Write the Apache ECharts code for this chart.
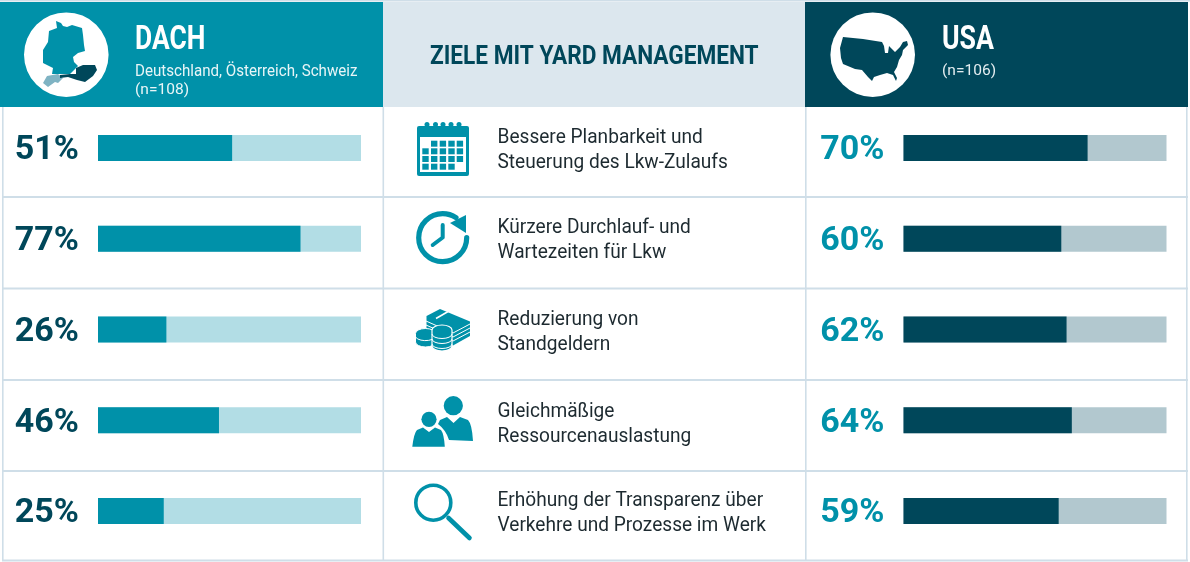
<!DOCTYPE html>
<html>
<head>
<meta charset="utf-8">
<style>html,body{margin:0;padding:0;background:#fff}#chart{width:1190px;height:562px}</style>
<script src="https://cdn.jsdelivr.net/npm/echarts@6/dist/echarts.min.js"></script>
</head>
<body>
<div id="chart"></div>
<script>
// Survey results: goals of yard management, DACH vs. USA (percent of respondents)
const goals = [
  ['Bessere Planbarkeit und', 'Steuerung des Lkw-Zulaufs'],
  ['Kürzere Durchlauf- und', 'Wartezeiten für Lkw'],
  ['Reduzierung von', 'Standgeldern'],
  ['Gleichmäßige', 'Ressourcenauslastung'],
  ['Erhöhung der Transparenz über', 'Verkehre und Prozesse im Werk']
];
const dachValues = [51, 77, 26, 46, 25];
const usaValues = [70, 60, 62, 64, 59];
const goalIds = ['planning', 'leadtime', 'fees', 'resources', 'transparency'];

const TEAL = '#0091a9', DARK = '#00475a', TEAL_L = '#b2dde5', DARK_L = '#b2c8cf';
const RULE = '#cfdee8', HEAD_MID = '#dce7ee', INK = '#1d2a30';
const FONT = 'Roboto, sans-serif';

// Table furniture and icons are collected here and drawn by one custom series
const g = [];
const rect = (x, y, w, h, fill) => g.push({type: 'rect', shape: {x, y, width: w, height: h}, style: {fill}});
const text = (x, y, t, size, fill, opts = {}) => g.push({
  type: 'text', x, y, scaleX: opts.sx || 1,
  style: {text: t, fill, font: `${opts.weight || 400} ${size}px ${FONT}`, textAlign: 'left', textVerticalAlign: 'middle'}
});
const path = (d, style) => g.push({type: 'path', shape: {pathData: d}, style});
const circle = (cx, cy, r, style) => g.push({type: 'circle', shape: {cx, cy, r}, style});

// Header bands
rect(0, 2, 383, 105, TEAL);
rect(383, 2, 422, 105, HEAD_MID);
rect(805, 2, 383, 105, DARK);
rect(0, 0, 1190, 1.5, RULE);

// Table rules
[196, 287.5, 379, 470, 559.5].forEach(y => rect(2, y, 1186, 2, RULE));
[2, 382.5, 805, 1186].forEach(x => rect(x, 107, 1.6, 454, RULE));

// Header content
circle(66.3, 54.7, 42.3, {fill: '#fff'});
circle(872.7, 54.7, 42.3, {fill: '#fff'});
path('M56 21L61 23L63 26L67 27L72 25L82 28L83 35L84 45L85 51L78 53L73 57L74 62L78 66L76 68L70 74L60 74L52 74L53 68L43 63L43 50L48 42L49 31L57 28Z', {fill: TEAL});
path('M47 76L58 74L63 78L58 83L55 82L48 87L43 83Z', {fill: '#7fb3c3'});
path('M76 68L83 65L95 65L97 70L93 76L85 82L77 80L68 77L60 78L60 75L70 74L76 74Z', {fill: DARK});
path('M843 37L863 39L882 42L884 46L885 53L888 53L889 46L895 52L900 47L903 42L907 41L908 45L903 50L902 55L899 60L897 67L894 72L897 78L896 81L893 75L887 73L880 75L874 77L872 81L868 77L862 70L855 69L843 64L841 58L840 48Z', {fill: DARK});

text(135, 41, 'DACH', 33, '#fff', {weight: 700, sx: 0.8});
text(135, 71.5, 'Deutschland, Österreich, Schweiz', 16, '#e8f5f7', {sx: 0.945});
text(135, 90.5, '(n=108)', 14, '#e8f5f7', {sx: 1.11});
text(942, 41, 'USA', 33, '#fff', {weight: 700, sx: 0.81});
text(942, 71.5, '(n=106)', 14, '#e3edf0', {sx: 1.11});
text(430, 57, 'ZIELE MIT YARD MANAGEMENT', 26, DARK, {weight: 700, sx: 0.87});

// Goal captions
const captionY = [150.5, 240.5, 332.5, 424.5, 513.5];
goals.forEach((lines, i) => {
  text(497.5, captionY[i] - 12.5, lines[0], 20, INK, {sx: 0.955});
  text(497.5, captionY[i] + 12.5, lines[1], 20, INK, {sx: 0.955});
});

// Row icons
const icons = {
  planning() {
    path('M419 126H467Q469 126 469 128V174Q469 176 467 176H419Q417 176 417 174V128Q417 126 419 126Z', {fill: TEAL});
    [427, 435.5, 443, 451, 459].forEach(x => circle(x, 124.5, 2.5, {fill: TEAL}));
    rect(420, 137, 46, 35, '#fff');
    const cols = [422.3, 431, 439.7, 448.3, 456.7], rows = [140.7, 148.3, 156, 163.7];
    rows.forEach((y, r) => cols.forEach((x, c) => {
      if ((r === 0 && c === 0) || (r === 3 && c === 4)) return;
      rect(x, y, 6.4, 6, TEAL);
    }));
  },
  leadtime() {
    path('M466.7 237.7A24 24 0 1 1 456 217.7', {fill: 'none', stroke: TEAL, lineWidth: 5.2, lineCap: 'round'});
    path('M466 215L466 233L450 223Z', {fill: TEAL});
    path('M442.7 225V237.5L432.7 245', {fill: 'none', stroke: TEAL, lineWidth: 4, lineCap: 'round', lineJoin: 'round'});
  },
  fees() {
    path('M426.5 316L440 309L470 321.5V336L453 345.5L426.5 332Z', {fill: TEAL});
    path('M426 321L453 333L470 324M426 325L453 337L470 328M426 329L453 341L470 332', {fill: 'none', stroke: '#fff', lineWidth: 1});
    path('M436 318.5L449 311', {fill: 'none', stroke: '#fff', lineWidth: 1.6});
    path('M415.5 333.5A10 5 0 0 1 435.5 333.5V342A10 5 0 0 1 415.5 342Z', {fill: TEAL, stroke: '#fff', lineWidth: 1});
    path('M416 337.5A10 4.5 0 0 0 435 337.5', {fill: 'none', stroke: '#fff', lineWidth: 1});
    path('M432 330A10 5 0 0 1 452 330V346A10 5 0 0 1 432 346Z', {fill: TEAL, stroke: '#fff', lineWidth: 1.2});
    path('M432 334A10 4.5 0 0 0 452 334M432 339A10 4.5 0 0 0 452 339M432 344A10 4.5 0 0 0 452 344', {fill: 'none', stroke: '#fff', lineWidth: 1});
  },
  resources() {
    circle(453.3, 405.7, 9.6, {fill: TEAL});
    path('M440 420L447 417L453.5 423L460 417L468 420Q472 424 473 441L449 440Q446 430 438 424Z', {fill: TEAL});
    circle(429, 419.3, 7.6, {fill: TEAL});
    path('M412.3 446.7Q414 433 417 430L423 427.5L429 432L435 427.5L441 430Q444 434 444.8 446.7Z', {fill: TEAL});
  },
  transparency() {
    circle(433.3, 502.7, 17.5, {fill: 'none', stroke: TEAL, lineWidth: 3.6});
    path('M448.5 518L469.5 538', {fill: 'none', stroke: TEAL, lineWidth: 4.6, lineCap: 'round'});
  }
};
goalIds.forEach(id => icons[id]());

// One bar panel per region; the track behind each bar is the full 0-100 scale
const panel = (idx, left, values, color, track, labelColor) => ({
  grid: {left, width: 263, top: 102.6, height: 453.75},
  xAxis: {gridIndex: idx, type: 'value', min: 0, max: 100, show: false},
  yAxis: {
    gridIndex: idx, type: 'category', inverse: true, data: goalIds,
    axisLine: {show: false}, axisTick: {show: false}, axisLabel: {show: false}
  },
  series: {
    type: 'bar', xAxisIndex: idx, yAxisIndex: idx, data: values, barWidth: 26, silent: true, z: 5,
    itemStyle: {color}, showBackground: true, backgroundStyle: {color: track},
    label: {
      show: true, position: 'left', distance: 19, offset: [0, 3], formatter: '{c}%',
      color: labelColor, fontFamily: FONT, fontWeight: 700, fontSize: 34
    }
  }
});
const panels = [
  panel(0, 98, dachValues, TEAL, TEAL_L, DARK),
  panel(1, 903.5, usaValues, DARK, DARK_L, TEAL)
];

const chart = echarts.init(document.getElementById('chart'), null, {renderer: 'canvas'});
chart.setOption({
  animation: false,
  backgroundColor: '#fff',
  tooltip: {show: false},
  grid: panels.map(p => p.grid),
  xAxis: panels.map(p => p.xAxis),
  yAxis: panels.map(p => p.yAxis),
  series: [
    {
      type: 'custom', coordinateSystem: 'none', data: [0], silent: true, z: 1,
      renderItem: () => ({type: 'group', children: g})
    },
    ...panels.map(p => p.series)
  ]
});
</script>
</body>
</html>
